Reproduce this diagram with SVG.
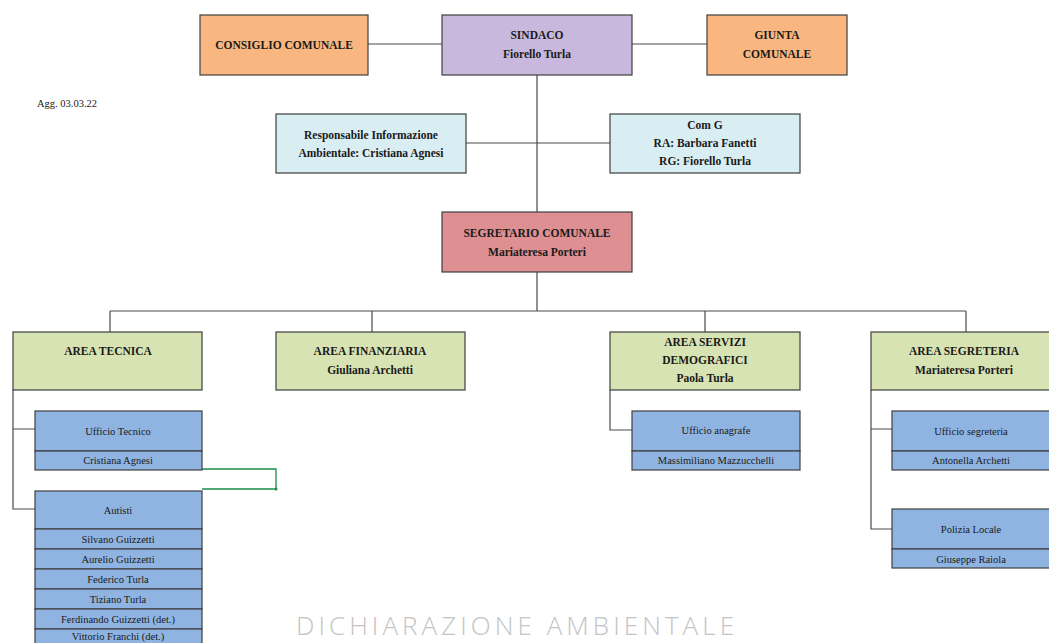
<svg xmlns="http://www.w3.org/2000/svg" width="1049" height="643" viewBox="0 0 1049 643">
<style>
.b{stroke:#3f3f3f;stroke-width:1.2}
.or{fill:#f9b680}.pu{fill:#c8b8de}.lb{fill:#d9eef3}.rd{fill:#dd8f92}.gr{fill:#d8e3b4}.bl{fill:#8fb4e1}
text{font-family:"Liberation Serif","DejaVu Serif",serif;fill:#1a1a1a;text-anchor:middle}
.t{font-size:11.5px;font-weight:bold}
.n{font-size:10.5px}
.c{fill:none;stroke:#4a4a4a;stroke-width:1.2}
</style>
<rect width="1049" height="643" fill="#ffffff"/>
<g id="connectors">
<path class="c" d="M368 44H442M632 44H707M537 75V212M466 143H610M537 272V311M110 311H966M110 311V332M372 311V332M705 311V332M966 311V332"/>
<path class="c" d="M13 390V509H35M13 429H35M610 390V430H632M871 390V529H892M871 429H892"/>
<path d="M202 469H276V489H202" fill="none" stroke="#1f8a4c" stroke-width="1.3"/>
<circle cx="276" cy="489" r="1.5" fill="#1f8a4c"/>
</g>
<g id="consiglio"><rect class="b or" x="200" y="15" width="168" height="60"/><text class="t" x="284" y="49">CONSIGLIO COMUNALE</text></g>
<g id="sindaco"><rect class="b pu" x="442" y="15" width="190" height="60"/><text class="t" x="537" y="39">SINDACO</text><text class="t" x="537" y="58">Fiorello Turla</text></g>
<g id="giunta"><rect class="b or" x="707" y="15" width="140" height="60"/><text class="t" x="777" y="39">GIUNTA</text><text class="t" x="777" y="58">COMUNALE</text></g>
<text class="n" x="37" y="107" style="text-anchor:start">Agg. 03.03.22</text>
<g id="resp"><rect class="b lb" x="276" y="114" width="190" height="59"/><text class="t" x="371" y="139">Responsabile Informazione</text><text class="t" x="371" y="157">Ambientale: Cristiana Agnesi</text></g>
<g id="comg"><rect class="b lb" x="610" y="114" width="190" height="59"/><text class="t" x="705" y="129">Com G</text><text class="t" x="705" y="147">RA: Barbara Fanetti</text><text class="t" x="705" y="165">RG: Fiorello Turla</text></g>
<g id="segretario"><rect class="b rd" x="442" y="212" width="190" height="60"/><text class="t" x="537" y="237">SEGRETARIO COMUNALE</text><text class="t" x="537" y="256">Mariateresa Porteri</text></g>
<g id="tecnica"><rect class="b gr" x="13" y="332" width="189" height="58"/><text class="t" x="108" y="355">AREA TECNICA</text></g>
<g id="finanziaria"><rect class="b gr" x="276" y="332" width="189" height="58"/><text class="t" x="370" y="355">AREA FINANZIARIA</text><text class="t" x="370" y="374">Giuliana Archetti</text></g>
<g id="servizi"><rect class="b gr" x="610" y="332" width="190" height="58"/><text class="t" x="705" y="346">AREA SERVIZI</text><text class="t" x="705" y="364">DEMOGRAFICI</text><text class="t" x="705" y="382">Paola Turla</text></g>
<g id="segreteria"><rect class="b gr" x="871" y="332" width="190" height="58"/><text class="t" x="964" y="355">AREA SEGRETERIA</text><text class="t" x="964" y="374">Mariateresa Porteri</text></g>
<g id="uff-tecnico"><rect class="b bl" x="35" y="411" width="167" height="40"/><rect class="b bl" x="35" y="451" width="167" height="19"/><text class="n" x="118" y="435">Ufficio Tecnico</text><text class="n" x="118" y="464">Cristiana Agnesi</text></g>
<g id="autisti"><rect class="b bl" x="35" y="491" width="167" height="38"/><text class="n" x="118" y="514">Autisti</text>
<rect class="b bl" x="35" y="529" width="167" height="20"/><text class="n" x="118" y="543">Silvano Guizzetti</text>
<rect class="b bl" x="35" y="549" width="167" height="20"/><text class="n" x="118" y="563">Aurelio Guizzetti</text>
<rect class="b bl" x="35" y="569" width="167" height="20"/><text class="n" x="118" y="583">Federico Turla</text>
<rect class="b bl" x="35" y="589" width="167" height="20"/><text class="n" x="118" y="603">Tiziano Turla</text>
<rect class="b bl" x="35" y="609" width="167" height="20"/><text class="n" x="118" y="623">Ferdinando Guizzetti (det.)</text>
<rect class="b bl" x="35" y="629" width="167" height="20"/><text class="n" x="118" y="640">Vittorio Franchi (det.)</text></g>
<g id="anagrafe"><rect class="b bl" x="632" y="411" width="168" height="40"/><rect class="b bl" x="632" y="451" width="168" height="19"/><text class="n" x="716" y="434">Ufficio anagrafe</text><text class="n" x="716" y="464">Massimiliano Mazzucchelli</text></g>
<g id="uff-segreteria"><rect class="b bl" x="892" y="411" width="166" height="40"/><rect class="b bl" x="892" y="451" width="166" height="19"/><text class="n" x="971" y="435">Ufficio segreteria</text><text class="n" x="971" y="464">Antonella Archetti</text></g>
<g id="polizia"><rect class="b bl" x="892" y="509" width="166" height="40"/><rect class="b bl" x="892" y="549" width="166" height="19"/><text class="n" x="971" y="533">Polizia Locale</text><text class="n" x="971" y="563">Giuseppe Raiola</text></g>
<text x="515" y="635" textLength="438" lengthAdjust="spacing" style="font-family:'Open Sans','DejaVu Sans',sans-serif;font-weight:300;font-size:26px;fill:#c4c4c4">DICHIARAZIONE AMBIENTALE</text>
</svg>
